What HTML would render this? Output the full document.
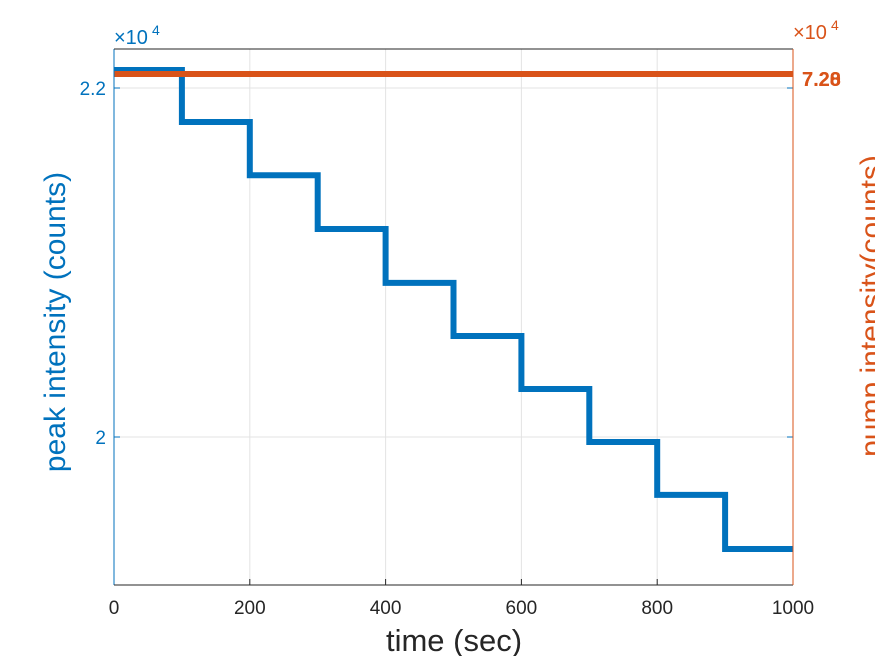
<!DOCTYPE html>
<html><head><meta charset="utf-8"><style>body{margin:0;background:#fff;overflow:hidden}svg{display:block}</style></head>
<body>
<svg id="c" width="875" height="656" font-family="Liberation Sans, sans-serif">
<g id="grid"></g><g id="marks"></g><g id="axes"></g>
</svg>
<script>
const xTicks=[0,200,400,600,800,1000];
const yTicks=[2.0,2.2];
const stepStarts=[0,100,200,300,400,500,600,700,800,900];
const peakValues=[2.2103,2.1805,2.150,2.1192,2.0883,2.0579,2.0275,1.9971,1.9668,1.9358];
const pumpValue=[7.24];
const rightTickLabels=["7.20","7.28"];
const L=114,R=793,T=49,B=585;
const sx=v=>L+(v-0)/(1000)*(R-L);
const sy=v=>437-(v-2.0)/0.2*349;
const NS='http://www.w3.org/2000/svg';
function mk(p,t,a,txt){const e=document.createElementNS(NS,t);for(const k in a)e.setAttribute(k,a[k]);if(txt!=null)e.textContent=txt;document.getElementById(p).appendChild(e);return e;}
xTicks.forEach(v=>{const x=sx(v);
 if(v>0&&v<1000){const g=mk('grid','line',{x1:x,x2:x,y1:T,y2:B,stroke:'#e3e3e3','stroke-width':1});
 
 }
 mk('axes','line',{x1:x,x2:x,y1:B,y2:B-6,stroke:'#262626'});
 const l=mk('axes','text',{x:x,y:614,'text-anchor':'middle','font-size':19,fill:'#262626'},String(v));
 
 
});
yTicks.forEach(v=>{const y=sy(v);
 const g=mk('grid','line',{x1:L,x2:R,y1:y,y2:y,stroke:'#e3e3e3','stroke-width':1});
 
 
 mk('axes','line',{x1:L,x2:L+6,y1:y,y2:y,stroke:'#0072bd'});
 mk('axes','line',{x1:R,x2:R-6,y1:y,y2:y,stroke:'#0072bd'});
 const l=mk('axes','text',{x:106,y:y+7,'text-anchor':'end','font-size':19,fill:'#0072bd'},v===2?'2':v.toFixed(1));
 
 
});
let d='';
stepStarts.forEach((s,i)=>{const y=sy(peakValues[i]);const x0=sx(s),x1=sx(i<stepStarts.length-1?stepStarts[i+1]:1000);d+=(i===0?'M':'L')+x0+','+y+'L'+x1+','+y;});
const p=mk('marks','path',{d:d,fill:'none',stroke:'#0072bd','stroke-width':6});


const py=74;
const o=mk('marks','line',{x1:L,x2:R,y1:py,y2:py,stroke:'#d95319','stroke-width':6});


rightTickLabels.forEach(t=>{const l=mk('axes','text',{x:802,y:86,'font-size':20,'font-weight':'bold',fill:'#d95319'},t);
 
 });
mk('axes','line',{x1:L,x2:L,y1:T,y2:B,stroke:'#0072bd'});
mk('axes','line',{x1:L,x2:R,y1:T,y2:T,stroke:'#262626'});
mk('axes','line',{x1:L,x2:R,y1:B,y2:B,stroke:'#262626'});
mk('axes','line',{x1:R,x2:R,y1:T,y2:B,stroke:'#d95319'});
let e;
e=mk('axes','text',{x:114,y:44,'font-size':20,fill:'#0072bd'},'×10');
mk('axes','text',{x:152,y:35,'font-size':14,fill:'#0072bd'},'4');
e=mk('axes','text',{x:793,y:39,'font-size':20,fill:'#d95319'},'×10');
mk('axes','text',{x:831,y:30,'font-size':14,fill:'#d95319'},'4');
e=mk('axes','text',{x:454,y:651,'text-anchor':'middle','font-size':31,fill:'#262626'},'time (sec)');
e=mk('axes','text',{x:0,y:0,'text-anchor':'middle','font-size':30,fill:'#0072bd',transform:'translate(65,322) rotate(-90)'},'peak intensity (counts)');
e=mk('axes','text',{x:0,y:0,'text-anchor':'middle','font-size':30,fill:'#d95319',transform:'translate(881,306) rotate(-90)'},'pump intensity(counts)');
</script>
</body></html>
